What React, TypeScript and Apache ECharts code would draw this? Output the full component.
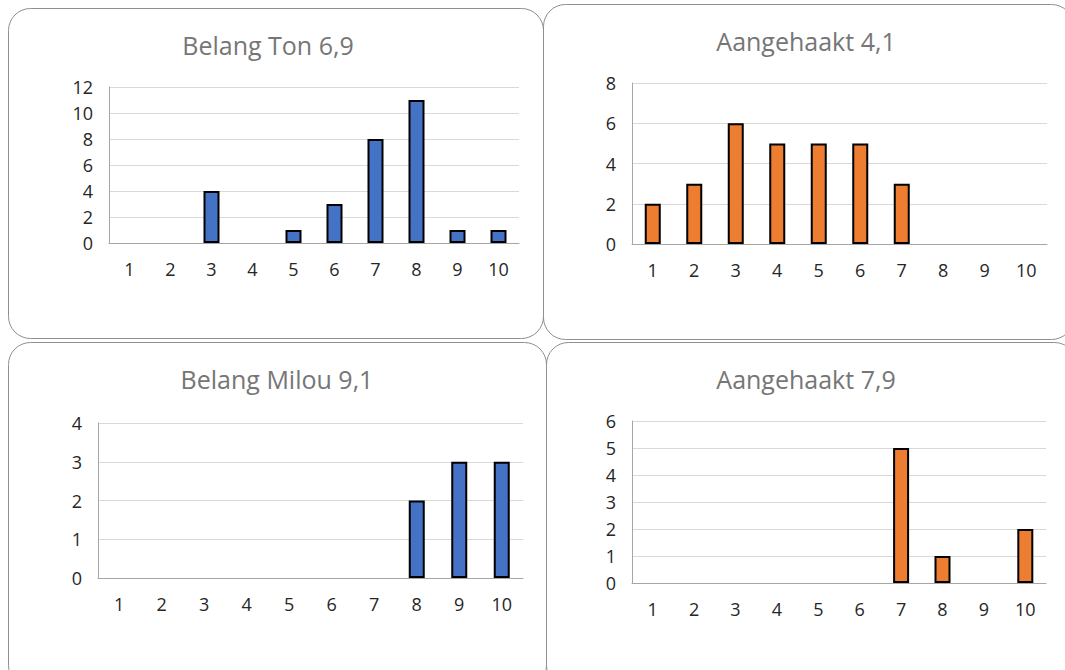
import React, { useEffect, useRef } from "react";
import * as echarts from "echarts";

const categories = ["1", "2", "3", "4", "5", "6", "7", "8", "9", "10"];
const titles = ["Belang Ton 6,9", "Aangehaakt 4,1", "Belang Milou 9,1", "Aangehaakt 7,9"];
const tonValues = [0, 0, 4, 0, 1, 3, 8, 11, 1, 1];
const aangehaakt41Values = [2, 3, 6, 5, 5, 5, 3, 0, 0, 0];
const milouValues = [0, 0, 0, 0, 0, 0, 0, 2, 3, 3];
const aangehaakt79Values = [0, 0, 0, 0, 0, 0, 5, 1, 0, 2];
const yMax = [12, 8, 4, 6];
const yInterval = [2, 2, 1, 1];

const BLUE = "#4472C4";
const ORANGE = "#ED7D31";
const FONT = "'Open Sans', 'Noto Sans', sans-serif";

const seriesValues = [tonValues, aangehaakt41Values, milouValues, aangehaakt79Values];
const seriesColors = [BLUE, ORANGE, BLUE, ORANGE];

const grids = [
  { left: 109, top: 87, width: 410, height: 156 },
  { left: 632, top: 83, width: 415, height: 161 },
  { left: 98, top: 423, width: 425, height: 155 },
  { left: 632, top: 421, width: 414, height: 162 },
];

const titlePos = [
  { x: 268, y: 45 },
  { x: 806, y: 41 },
  { x: 277, y: 379 },
  { x: 806, y: 379 },
];

const panels = [
  { x: 8, y: 8, w: 535, h: 330 },
  { x: 543, y: 4, w: 530, h: 335 },
  { x: 8, y: 342, w: 538, h: 345 },
  { x: 546, y: 342, w: 530, h: 345 },
];

export default function App() {
  const ref = useRef<HTMLDivElement>(null);
  useEffect(() => {
    if (!ref.current) return;
    const chart = echarts.init(ref.current, null, { renderer: "svg" });
    const graphics: any[] = [];
    panels.forEach((p) => {
      graphics.push({
        type: "rect",
        shape: { x: p.x + 0.5, y: p.y + 0.5, width: p.w, height: p.h, r: 22 },
        style: { fill: "none", stroke: "#8f8f8f", lineWidth: 1 },
        z: 0,
      });
    });
    titles.forEach((t, i) => {
      graphics.push({
        type: "text",
        x: titlePos[i].x,
        y: titlePos[i].y,
        style: {
          text: t,
          fontSize: 25,
          fontFamily: FONT,
          fill: "#767676",
          textAlign: "center",
          textVerticalAlign: "middle",
          align: "center",
          verticalAlign: "middle",
        },
      });
    });
    chart.setOption({
      animation: false,
      backgroundColor: "#ffffff",
      graphic: graphics,
      grid: grids.map((g) => ({ ...g, containLabel: false })),
      xAxis: grids.map((_, i) => ({
        type: "category",
        gridIndex: i,
        data: categories,
        axisTick: { show: false },
        axisLine: { show: true, lineStyle: { color: "#a6a6a6", width: 1 } },
        axisLabel: { color: "#262626", fontSize: 18, fontFamily: FONT, margin: 17, interval: 0 },
        splitLine: { show: false },
      })),
      yAxis: grids.map((_, i) => ({
        type: "value",
        gridIndex: i,
        min: 0,
        max: yMax[i],
        interval: yInterval[i],
        axisLine: { show: true, lineStyle: { color: "#a6a6a6", width: 1 } },
        axisTick: { show: false },
        axisLabel: { color: "#262626", fontSize: 18, fontFamily: FONT, margin: 16 },
        splitLine: { show: true, lineStyle: { color: "#d9d9d9", width: 1 } },
      })),
      series: seriesValues.map((vals, i) => ({
        type: "bar",
        xAxisIndex: i,
        yAxisIndex: i,
        data: vals.map((v) => (v === 0 ? null : v)),
        barWidth: 16,
        itemStyle: { color: seriesColors[i], borderColor: "#000000", borderWidth: 2 },
      })),
    });
    return () => chart.dispose();
  }, []);
  return (
    <div
      ref={ref}
      style={{ position: "absolute", left: 0, top: 0, width: 1065, height: 670 }}
    />
  );
}
